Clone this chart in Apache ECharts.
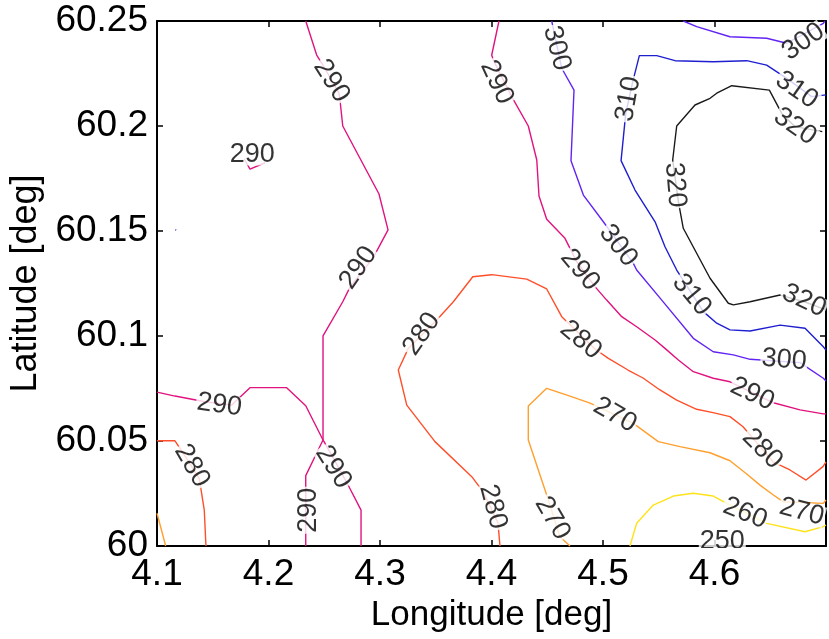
<!DOCTYPE html>
<html>
<head>
<meta charset="utf-8">
<script src="https://cdn.jsdelivr.net/npm/echarts@6/dist/echarts.min.js"></script>
<style>
  html, body { margin: 0; padding: 0; background: #fff; }
  #chart { width: 829px; height: 639px; }
</style>
</head>
<body>
<div id="chart"></div>
<script>
// Axis ticks
const lonTicks = [4.1, 4.2, 4.3, 4.4, 4.5, 4.6, 4.7];
const latTicks = [60, 60.05, 60.1, 60.15, 60.2, 60.25];

// Contour polylines, [longitude, latitude]
const c290North = [[4.2334,60.25],[4.2432,60.2338],[4.2498,60.2281],[4.2632,60.2157],[4.2641,60.2124],[4.2666,60.2],[4.2991,60.1676],[4.3072,60.1505],[4.2937,60.1371],[4.2731,60.1233],[4.2666,60.1163],[4.2489,60.1001],[4.2489,60.0505],[4.2334,60.0335],[4.2334,60.0]];
const c290West = [[4.1,60.0733],[4.1161,60.0714],[4.1431,60.0687],[4.167,60.0671],[4.1834,60.0754],[4.2163,60.0754],[4.2334,60.0668],[4.2489,60.0505],[4.2567,60.0433],[4.2722,60.0282],[4.283,60.0171],[4.283,60.0]];
const c290Islet = [[4.1783,60.1843],[4.1834,60.1795],[4.1969,60.1825]];
const c310Speck = [[4.1165,60.1506],[4.1172,60.1504]];
const c280West = [[4.1,60.0501],[4.1161,60.0501],[4.1233,60.0444],[4.1379,60.0322],[4.1424,60.0171],[4.1439,60.0]];
const c270West = [[4.1,60.0156],[4.1078,60.0]];
const c280Main = [[4.4076,60.0],[4.4058,60.011],[4.3924,60.0259],[4.3823,60.033],[4.3493,60.0497],[4.324,60.0671],[4.3164,60.0838],[4.3254,60.0941],[4.3509,60.1076],[4.3658,60.1163],[4.3832,60.1282],[4.4002,60.1292],[4.4316,60.1271],[4.4495,60.1224],[4.463,60.1092],[4.4928,60.0938],[4.5045,60.0895],[4.5224,60.0838],[4.5359,60.08],[4.5511,60.0743],[4.5661,60.0695],[4.584,60.0651],[4.5987,60.0635],[4.6139,60.0616],[4.6256,60.0568],[4.6525,60.0401],[4.6677,60.0362],[4.6821,60.0314],[4.6973,60.0378],[4.7,60.04]];
const c270Main = [[4.4704,60.0],[4.4614,60.0044],[4.451,60.0219],[4.433,60.0505],[4.433,60.0667],[4.4495,60.0751],[4.4704,60.0714],[4.4884,60.068],[4.5272,60.0584],[4.5496,60.0497],[4.5691,60.0473],[4.596,60.0444],[4.6139,60.0406],[4.6289,60.0343],[4.6408,60.029],[4.6528,60.0243],[4.6615,60.0211],[4.6976,60.0203],[4.7,60.0219]];
const c260 = [[4.5242,60.0],[4.5302,60.0108],[4.5451,60.0195],[4.5631,60.0238],[4.581,60.0251],[4.5989,60.0238],[4.611,60.0203],[4.6468,60.0108],[4.6812,60.0068],[4.6976,60.0092],[4.7,60.01]];
const c290East = [[4.4067,60.25],[4.4002,60.2338],[4.4016,60.2314],[4.4181,60.214],[4.433,60.2],[4.4406,60.1838],[4.4426,60.1667],[4.4495,60.1556],[4.4659,60.1465],[4.4764,60.1354],[4.4928,60.1235],[4.5033,60.1171],[4.5168,60.1092],[4.5302,60.1044],[4.5467,60.0981],[4.5556,60.0941],[4.5676,60.0886],[4.581,60.083],[4.5989,60.0799],[4.6139,60.0782],[4.6528,60.0682],[4.6767,60.0648],[4.6976,60.0629],[4.7,60.0629]];
const c300Main = [[4.454,60.25],[4.463,60.2275],[4.474,60.2171],[4.4713,60.1835],[4.4824,60.1671],[4.5003,60.1544],[4.5272,60.1346],[4.5302,60.1314],[4.5527,60.1171],[4.581,60.0989],[4.5989,60.0925],[4.6169,60.091],[4.6319,60.0889],[4.6767,60.0873],[4.6976,60.0799],[4.7,60.0786]];
const c300Corner = [[4.572,60.25],[4.584,60.2473],[4.6139,60.2425],[4.6468,60.2418],[4.6648,60.2394],[4.6976,60.2489],[4.699,60.25]];
const c310 = [[4.7,60.2148],[4.6872,60.214],[4.6648,60.2227],[4.6468,60.229],[4.6289,60.2311],[4.5989,60.2306],[4.5646,60.2311],[4.5482,60.2335],[4.5326,60.2335],[4.5267,60.2211],[4.5204,60.206],[4.5162,60.1835],[4.5287,60.1695],[4.5467,60.1544],[4.5556,60.1425],[4.5661,60.1314],[4.59,60.1116],[4.602,60.1061],[4.6139,60.1029],[4.6319,60.1024],[4.6588,60.1052],[4.6812,60.1037],[4.6976,60.0949],[4.7,60.0933]];
const c320 = [[4.6967,60.1973],[4.6722,60.1997],[4.6603,60.206],[4.6492,60.2171],[4.6155,60.2192],[4.602,60.2156],[4.596,60.2132],[4.5825,60.21],[4.5661,60.2],[4.5625,60.1838],[4.5676,60.164],[4.572,60.1513],[4.596,60.1275],[4.6124,60.1156],[4.6169,60.1148],[4.6319,60.1163],[4.6588,60.1195],[4.6812,60.1162],[4.7,60.1124]];

// Level labels placed on the lines: [longitude, latitude, level]
const levelLabels = [
  [4.2565,60.2215,290],[4.2805,60.1325,290],[4.2360,60.0170,290],
  [4.1560,60.0672,290],[4.2582,60.0375,290],[4.1855,60.1862,290],
  [4.1314,60.0382,280],
  [4.3374,60.1010,280],[4.4014,60.0186,280],[4.4800,60.0981,280],[4.6429,60.0462,280],
  [4.4546,60.0132,270],[4.5108,60.0624,270],[4.6782,60.0163,270],
  [4.6274,60.0156,260],[4.6070,60.0019,250],
  [4.4047,60.2208,290],[4.4794,60.1314,290],[4.6339,60.0724,290],
  [4.4585,60.2370,300],[4.5137,60.1430,300],[4.6624,60.0886,300],[4.6797,60.2401,300],
  [4.5227,60.2129,310],[4.6737,60.2171,310],[4.5796,60.1195,310],
  [4.5646,60.1719,320],[4.6722,60.1997,320],[4.6803,60.1168,320]
];
// text angle of each label above, in degrees
const labelAngles = [-58, 55, 90, -8, -58, 0, -60, 55, -75, -40, -45, -60, -30, -15, -22, 0, -65, -50, -25, -75, -52, -5, 35, 80, -35, -50, -85, -35, -25];

const levelColors = {
  260: '#ffe21a', 270: '#ff9f2e', 280: '#ff4f2a', 290: '#e0137f',
  300: '#6224f2', 310: '#1f1fd0', 320: '#1a1a1a'
};

const contours = [
  [c290North, 290], [c290West, 290], [c290Islet, 290], [c310Speck, 310],
  [c280West, 280], [c270West, 270], [c280Main, 280], [c270Main, 270],
  [c260, 260], [c290East, 290], [c300Main, 300], [c300Corner, 300],
  [c310, 310], [c320, 320]
];

const FONT = 'Liberation Sans, Arial, Helvetica, sans-serif';
const chart = echarts.init(document.getElementById('chart'));

const lineSeries = contours.map(([pts, lvl]) => ({
  type: 'line',
  data: pts,
  showSymbol: false,
  symbol: 'none',
  silent: true,
  z: 2,
  lineStyle: { color: levelColors[lvl], width: 1.4 }
}));

const labelSeries = {
  type: 'scatter',
  symbolSize: 0,
  silent: true,
  z: 5,
  data: levelLabels.map((d, i) => ({
    value: d,
    label: { rotate: labelAngles[i] }
  })),
  label: {
    show: true,
    position: 'inside',
    formatter: p => String(p.value[2]),
    color: '#000',
    fontFamily: FONT,
    fontSize: 27,
    lineHeight: 21,
    backgroundColor: '#fff',
    padding: [0, 1]
  }
};

const tickFmt = (v, digits) => String(Math.round(v * Math.pow(10, digits)) / Math.pow(10, digits));

chart.setOption({
  animation: false,
  backgroundColor: '#fff',
  grid: { left: 157, right: 3, top: 21, bottom: 93, containLabel: false, outerBoundsMode: 'none' },
  xAxis: [{
    type: 'value', min: lonTicks[0], max: lonTicks[lonTicks.length - 1], interval: 0.1,
    position: 'bottom',
    name: 'Longitude [deg]', nameLocation: 'middle', nameGap: 50,
    nameTextStyle: { fontFamily: FONT, fontSize: 35, color: '#000' },
    axisLine: { show: true, lineStyle: { color: '#000', width: 2 } },
    axisTick: { show: true, inside: true, length: 6, lineStyle: { color: '#000', width: 1.5 } },
    axisLabel: { fontFamily: FONT, fontSize: 37, color: '#000', margin: 10, showMaxLabel: false,
      formatter: v => tickFmt(v, 1) },
    splitLine: { show: false }
  }, {
    type: 'value', min: lonTicks[0], max: lonTicks[lonTicks.length - 1], interval: 0.1,
    position: 'top',
    axisLine: { show: true, lineStyle: { color: '#000', width: 2 } },
    axisTick: { show: true, inside: true, length: 6, lineStyle: { color: '#000', width: 1.5 } },
    axisLabel: { show: false },
    splitLine: { show: false }
  }],
  yAxis: [{
    type: 'value', min: latTicks[0], max: latTicks[latTicks.length - 1], interval: 0.05,
    position: 'left',
    name: 'Latitude [deg]', nameLocation: 'middle', nameGap: 113, nameRotate: 90,
    nameTextStyle: { fontFamily: FONT, fontSize: 36, color: '#000' },
    axisLine: { show: true, lineStyle: { color: '#000', width: 2 } },
    axisTick: { show: true, inside: true, length: 6, lineStyle: { color: '#000', width: 1.5 } },
    axisLabel: { fontFamily: FONT, fontSize: 37, color: '#000', margin: 9,
      formatter: v => tickFmt(v, 2) },
    splitLine: { show: false }
  }, {
    type: 'value', min: latTicks[0], max: latTicks[latTicks.length - 1], interval: 0.05,
    position: 'right',
    axisLine: { show: true, lineStyle: { color: '#000', width: 2 } },
    axisTick: { show: true, inside: true, length: 6, lineStyle: { color: '#000', width: 1.5 } },
    axisLabel: { show: false },
    splitLine: { show: false }
  }],
  series: lineSeries.concat([labelSeries])
});

// Trim the part of the low-value label that falls below the frame
const origin = chart.convertToPixel({ xAxisIndex: 0, yAxisIndex: 0 }, [lonTicks[0], latTicks[0]]);
chart.setOption({
  graphic: [{
    type: 'rect', z: 100, silent: true,
    shape: { x: origin[0] + 520, y: origin[1] + 2, width: 100, height: 11 },
    style: { fill: '#fff' }
  }]
});
</script>
</body>
</html>
